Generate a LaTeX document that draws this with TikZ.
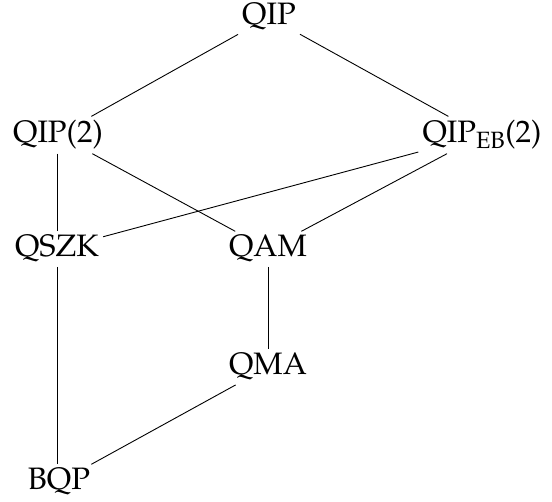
\documentclass[tikz,border=0pt]{standalone}
\usepackage[T1]{fontenc}
\usepackage{mathpazo}
\begin{document}
\begin{tikzpicture}[x=1pt,y=-1pt,
  cls/.style={font=\fontsize{31}{37}\selectfont, inner sep=4pt, anchor=base},
  edge/.style={line width=0.9pt}]
\useasboundingbox (0,0) rectangle (552,502);
\node[cls] (qip)  at (269,25)  {QIP};
\node[cls] (qip2) at (58,143)  {QIP(2)};
\node[cls] (qeb)  at (482,143) {QIP$_{\mathrm{EB}}$(2)};
\node[cls] (qszk) at (57,257)  {QSZK};
\node[cls] (qam)  at (268,257) {QAM};
\node[cls] (qma)  at (268,375) {QMA};
\node[cls] (bqp)  at (59,490)  {BQP};
\draw[edge] (qip) -- (qip2);
\draw[edge] (qip) -- (qeb);
\draw[edge] (qip2.south -| qszk) -- (qszk);
\draw[edge] (qip2) -- (qam);
\draw[edge] (qeb) -- (qszk);
\draw[edge] (qeb) -- (qam);
\draw[edge] (qam) -- (qma);
\draw[edge] (qszk) -- (qszk |- bqp.north);
\draw[edge] (qma) -- (bqp);
\end{tikzpicture}
\end{document}
